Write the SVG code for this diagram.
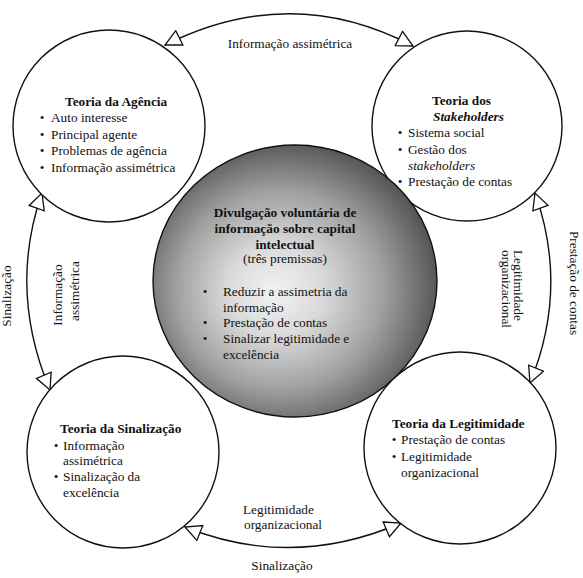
<svg xmlns="http://www.w3.org/2000/svg" width="583" height="578" viewBox="0 0 583 578">
<style>
text{font-family:"Liberation Serif","Times New Roman",serif;font-size:13.3px;fill:#111}
.b{font-weight:bold}
.i{font-style:italic}
.m{text-anchor:middle}
.c{fill:#fff;stroke:#111;stroke-width:1.4}
.a{fill:none;stroke:#111;stroke-width:1.4;marker-start:url(#tri);marker-end:url(#tri)}
</style>
<defs>
<radialGradient id="g" cx="0.46" cy="0.53" r="0.56" fx="0.42" fy="0.54">
<stop offset="0" stop-color="#f2f2f2"/>
<stop offset="0.3" stop-color="#dadada"/>
<stop offset="0.65" stop-color="#a0a0a0"/>
<stop offset="1" stop-color="#505050"/>
</radialGradient>
<marker id="tri" markerUnits="userSpaceOnUse" markerWidth="18" markerHeight="18" refX="16" refY="8" orient="auto-start-reverse" viewBox="-1 -1 18 18">
<path d="M0,0 L16,8 L0,16 Z" fill="#fff" stroke="#111" stroke-width="1.3"/>
</marker>
</defs>
<rect width="583" height="578" fill="#fff"/>
<g id="connectors">
<path class="a" d="M165,45 Q291,-18 413,46"/>
<path class="a" d="M42,193 Q8,290 50,390"/>
<path class="a" d="M535,193 Q569,288 530,383"/>
<path class="a" d="M185,527 Q292,570 401,523"/>
<text x="290" y="48" class="m">Informação assimétrica</text>
<text x="243" y="514">Legitimidade</text>
<text x="244" y="529">organizacional</text>
<text x="282" y="570" class="m">Sinalização</text>
<text transform="translate(11,296) rotate(-90)" class="m">Sinalização</text>
<text transform="translate(62,295) rotate(-90)" class="m">Informação</text>
<text transform="translate(79,291) rotate(-90)" class="m">assimétrica</text>
<text transform="translate(514,250) rotate(90)">Legitimidade</text>
<text transform="translate(502,250) rotate(90)">organizacional</text>
<text transform="translate(570,283) rotate(90)" class="m">Prestação de contas</text>
</g>
<g id="agencia">
<circle class="c" cx="109" cy="126" r="96"/>
<text x="65" y="105.5" class="b">Teoria da Agência</text>
<text x="42" y="122" class="m">•</text><text x="51" y="122">Auto interesse</text>
<text x="42" y="138.5" class="m">•</text><text x="51" y="138.5">Principal agente</text>
<text x="42" y="155" class="m">•</text><text x="51" y="155">Problemas de agência</text>
<text x="42" y="171.5" class="m">•</text><text x="51" y="171.5">Informação assimétrica</text>
</g>
<g id="stakeholders">
<circle class="c" cx="467" cy="126" r="95"/>
<text x="432" y="105" class="b">Teoria dos</text>
<text x="433" y="121" class="b i">Stakeholders</text>
<text x="400" y="137" class="m">•</text><text x="408" y="137">Sistema social</text>
<text x="400" y="153.5" class="m">•</text><text x="408" y="153.5">Gestão dos</text>
<text x="408" y="169.5" class="i">stakeholders</text>
<text x="400" y="186" class="m">•</text><text x="408" y="186">Prestação de contas</text>
</g>
<g id="divulgacao">
<ellipse cx="295" cy="281" rx="142" ry="136" fill="url(#g)" stroke="#111" stroke-width="1.4"/>
<text x="285" y="217" class="b m">Divulgação voluntária de</text>
<text x="285" y="233" class="b m">informação sobre capital</text>
<text x="285" y="249" class="b m">intelectual</text>
<text x="285" y="263" class="m">(três premissas)</text>
<text x="205" y="296" class="m">•</text><text x="223" y="296">Reduzir a assimetria da</text>
<text x="223" y="311.5">informação</text>
<text x="205" y="327" class="m">•</text><text x="223" y="327">Prestação de contas</text>
<text x="205" y="343" class="m">•</text><text x="223" y="343">Sinalizar legitimidade e</text>
<text x="223" y="358.5">excelência</text>
</g>
<g id="sinalizacao">
<circle class="c" cx="123" cy="452" r="96"/>
<text x="60" y="433" class="b">Teoria da Sinalização</text>
<text x="56" y="450" class="m">•</text><text x="63" y="450">Informação</text>
<text x="63" y="465">assimétrica</text>
<text x="56" y="481" class="m">•</text><text x="63" y="481">Sinalização da</text>
<text x="63" y="496.5">excelência</text>
</g>
<g id="legitimidade">
<circle class="c" cx="460" cy="448" r="96"/>
<text x="392" y="428" class="b">Teoria da Legitimidade</text>
<text x="394" y="444" class="m">•</text><text x="401" y="444">Prestação de contas</text>
<text x="394" y="460.5" class="m">•</text><text x="401" y="460.5">Legitimidade</text>
<text x="401" y="476.5">organizacional</text>
</g>
</svg>
